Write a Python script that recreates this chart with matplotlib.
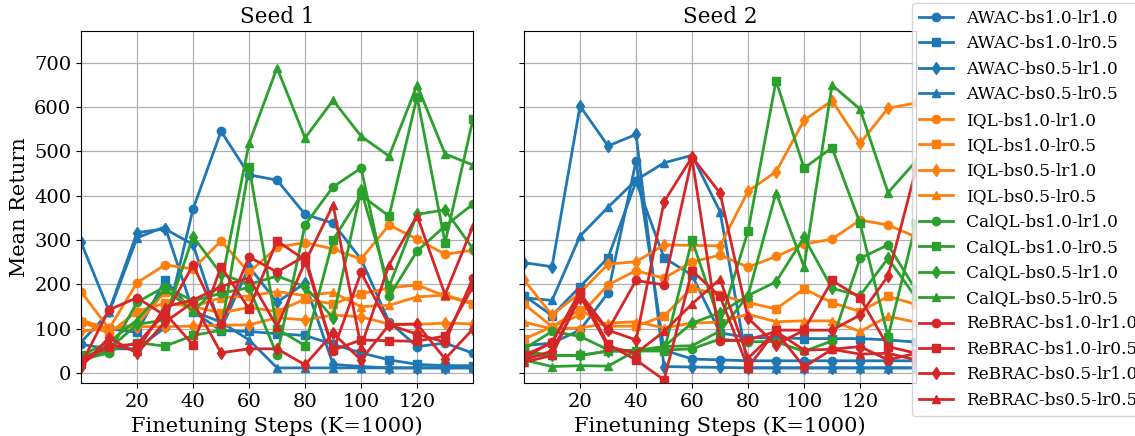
import matplotlib
matplotlib.use("Agg")
import matplotlib.pyplot as plt

plt.rcParams['font.family'] = ['DejaVu Serif']

steps = [0, 10, 20, 30, 40, 50, 60, 70, 80, 90, 100, 110, 120, 130, 140]
seed_titles = ["Seed 1", "Seed 2"]
labels = [
    "AWAC-bs1.0-lr1.0", "AWAC-bs1.0-lr0.5", "AWAC-bs0.5-lr1.0", "AWAC-bs0.5-lr0.5",
    "IQL-bs1.0-lr1.0", "IQL-bs1.0-lr0.5", "IQL-bs0.5-lr1.0", "IQL-bs0.5-lr0.5",
    "CalQL-bs1.0-lr1.0", "CalQL-bs1.0-lr0.5", "CalQL-bs0.5-lr1.0", "CalQL-bs0.5-lr0.5",
    "ReBRAC-bs1.0-lr1.0", "ReBRAC-bs1.0-lr0.5", "ReBRAC-bs0.5-lr1.0", "ReBRAC-bs0.5-lr0.5",
]

# Seed 1 values
s1_awac_bs10_lr10 = [65, 55, 55, 103, 370, 545, 447, 435, 358, 338, 257, 116, 60, 68, 45]
s1_awac_bs10_lr05 = [115, 100, 92, 210, 139, 96, 94, 89, 85, 65, 46, 30, 20, 17, 17]
s1_awac_bs05_lr10 = [295, 140, 317, 325, 290, 100, 240, 160, 203, 20, 15, 12, 12, 12, 12]
s1_awac_bs05_lr05 = [70, 137, 305, 330, 140, 115, 75, 12, 12, 12, 12, 12, 12, 12, 12]
s1_iql_bs10_lr10 = [184, 100, 204, 244, 235, 298, 227, 284, 294, 280, 257, 334, 302, 268, 277]
s1_iql_bs10_lr05 = [116, 90, 139, 158, 150, 136, 148, 139, 167, 156, 179, 192, 199, 174, 156]
s1_iql_bs05_lr10 = [95, 100, 105, 105, 106, 108, 109, 125, 120, 131, 127, 111, 110, 113, 111]
s1_iql_bs05_lr05 = [120, 100, 110, 184, 150, 170, 174, 184, 175, 182, 150, 153, 172, 176, 158]
s1_calql_bs10_lr10 = [30, 46, 160, 195, 163, 180, 193, 41, 334, 420, 462, 173, 275, 332, 381]
s1_calql_bs10_lr05 = [40, 50, 69, 61, 85, 97, 465, 100, 62, 300, 401, 354, 623, 294, 573]
s1_calql_bs05_lr10 = [25, 55, 110, 120, 308, 224, 200, 219, 195, 125, 413, 195, 358, 368, 280]
s1_calql_bs05_lr05 = [40, 70, 120, 190, 140, 200, 518, 688, 530, 615, 534, 489, 649, 494, 469]
s1_rebrac_bs10_lr10 = [20, 143, 170, 130, 244, 110, 262, 228, 264, 50, 227, 109, 88, 70, 215]
s1_rebrac_bs10_lr05 = [30, 60, 66, 135, 64, 240, 145, 298, 255, 52, 75, 73, 72, 84, 195]
s1_rebrac_bs05_lr10 = [15, 80, 45, 115, 160, 46, 55, 55, 19, 90, 30, 109, 111, 32, 100]
s1_rebrac_bs05_lr05 = [20, 65, 50, 150, 165, 195, 215, 105, 250, 379, 60, 244, 355, 177, 332]

# Seed 2 values
s2_awac_bs10_lr10 = [62, 68, 97, 181, 478, 52, 32, 30, 28, 28, 28, 28, 28, 28, 28]
s2_awac_bs10_lr05 = [175, 130, 195, 260, 432, 260, 221, 91, 80, 80, 78, 78, 78, 75, 70]
s2_awac_bs05_lr10 = [249, 240, 602, 512, 538, 15, 14, 13, 12, 12, 12, 12, 12, 12, 12]
s2_awac_bs05_lr05 = [170, 164, 309, 374, 435, 474, 491, 364, 12, 12, 12, 12, 12, 12, 12]
s2_iql_bs10_lr10 = [156, 105, 131, 199, 231, 214, 251, 266, 239, 263, 291, 302, 345, 334, 307]
s2_iql_bs10_lr05 = [77, 105, 143, 106, 106, 129, 192, 176, 159, 145, 190, 159, 139, 173, 155]
s2_iql_bs05_lr10 = [210, 131, 181, 246, 251, 289, 288, 287, 410, 454, 570, 614, 518, 597, 609]
s2_iql_bs05_lr05 = [115, 100, 102, 113, 116, 102, 113, 115, 133, 116, 118, 118, 94, 128, 115]
s2_calql_bs10_lr10 = [55, 94, 83, 53, 51, 52, 55, 77, 71, 71, 49, 73, 259, 289, 187]
s2_calql_bs10_lr05 = [40, 40, 40, 50, 50, 50, 300, 113, 320, 659, 462, 508, 338, 82, 338]
s2_calql_bs05_lr10 = [50, 40, 40, 50, 50, 60, 113, 136, 175, 206, 306, 191, 175, 259, 170]
s2_calql_bs05_lr05 = [30, 15, 17, 16, 51, 60, 62, 95, 175, 407, 240, 649, 595, 407, 478]
s2_rebrac_bs10_lr10 = [35, 70, 180, 97, 209, 199, 484, 73, 75, 94, 14, 54, 60, 30, 45]
s2_rebrac_bs10_lr05 = [40, 69, 184, 65, 30, -15, 231, 173, 12, 97, 97, 209, 170, 60, 45]
s2_rebrac_bs05_lr10 = [30, 50, 170, 97, 75, 386, 487, 406, 124, 64, 97, 97, 131, 219, 460]
s2_rebrac_bs05_lr05 = [25, 40, 175, 60, 45, 94, 156, 212, 34, 94, 52, 54, 43, 45, 30]

seed1 = [s1_awac_bs10_lr10, s1_awac_bs10_lr05, s1_awac_bs05_lr10, s1_awac_bs05_lr05,
         s1_iql_bs10_lr10, s1_iql_bs10_lr05, s1_iql_bs05_lr10, s1_iql_bs05_lr05,
         s1_calql_bs10_lr10, s1_calql_bs10_lr05, s1_calql_bs05_lr10, s1_calql_bs05_lr05,
         s1_rebrac_bs10_lr10, s1_rebrac_bs10_lr05, s1_rebrac_bs05_lr10, s1_rebrac_bs05_lr05]
seed2 = [s2_awac_bs10_lr10, s2_awac_bs10_lr05, s2_awac_bs05_lr10, s2_awac_bs05_lr05,
         s2_iql_bs10_lr10, s2_iql_bs10_lr05, s2_iql_bs05_lr10, s2_iql_bs05_lr05,
         s2_calql_bs10_lr10, s2_calql_bs10_lr05, s2_calql_bs05_lr10, s2_calql_bs05_lr05,
         s2_rebrac_bs10_lr10, s2_rebrac_bs10_lr05, s2_rebrac_bs05_lr10, s2_rebrac_bs05_lr05]

colors = ['#1f77b4', '#ff7f0e', '#2ca02c', '#d62728']
markers = ['o', 's', 'd', '^']

fig = plt.figure(figsize=(11.35, 4.36), dpi=100)
ax1 = fig.add_axes([0.0714, 0.1216, 0.3454, 0.8073])
ax2 = fig.add_axes([0.4617, 0.1216, 0.3454, 0.8073], sharey=ax1)

handles = []
for ax, data, title in zip([ax1, ax2], [seed1, seed2], seed_titles):
    for i, (vals, lab) in enumerate(zip(data, labels)):
        h, = ax.plot(steps, vals, color=colors[i // 4], marker=markers[i % 4],
                     markersize=6, linewidth=2, label=lab)
        if ax is ax1:
            handles.append(h)
    ax.set_title(title, fontsize=15.5)
    ax.set_xlabel("Finetuning Steps (K=1000)", fontsize=15)
    ax.set_xlim(0, 140)
    ax.set_xticks([20, 40, 60, 80, 100, 120])
    ax.grid(True, color='#b0b0b0', linewidth=0.9)
    ax.tick_params(labelsize=14)

ax1.set_ylim(-22, 771)
ax1.set_yticks([0, 100, 200, 300, 400, 500, 600, 700])
ax1.set_ylabel("Mean Return", fontsize=15)
plt.setp(ax2.get_yticklabels(), visible=False)

# legend sits partly beyond the right edge, as in the reference
fig.legend(handles=handles, loc='upper left', bbox_to_anchor=(912 / 1135, 1 - 3 / 436),
           bbox_transform=fig.transFigure, borderaxespad=0, fontsize=12.2, framealpha=0.8)

fig.savefig("out.png", dpi=100)
